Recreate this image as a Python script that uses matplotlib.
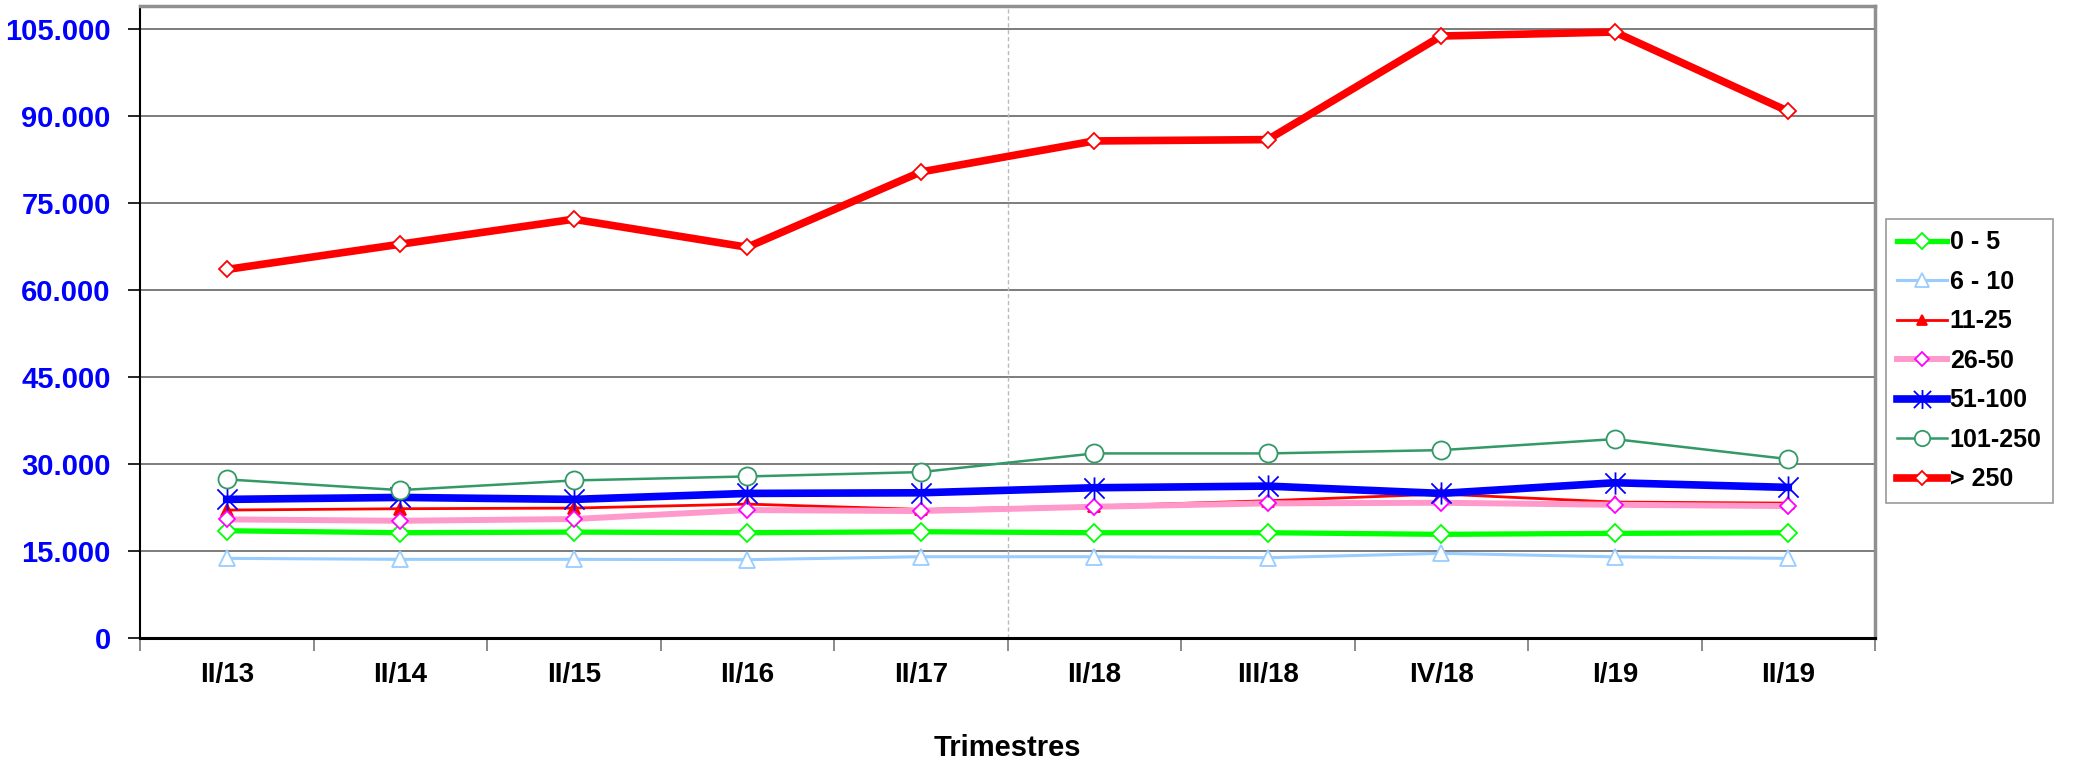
import numpy as np
import matplotlib.pyplot as plt
from matplotlib.path import Path
from matplotlib.ticker import FuncFormatter

plt.rcParams['font.family'] = ['Liberation Sans', 'DejaVu Sans']
plt.rcParams['font.weight'] = 'bold'

# quarters on the x axis
trimestres = ["II/13", "II/14", "II/15", "II/16", "II/17",
              "II/18", "III/18", "IV/18", "I/19", "II/19"]

# one list per size band
s_0_5 = [18500, 18160, 18270, 18160, 18330, 18160, 18160, 17880, 18050, 18160]
s_6_10 = [13740, 13570, 13570, 13510, 14020, 14020, 13850, 14600, 14000, 13740]
s_11_25 = [22070, 22300, 22410, 23100, 22180, 22760, 23680, 24830, 23450, 23270]
s_26_50 = [20460, 20220, 20520, 22070, 21900, 22640, 23220, 23330, 22980, 22760]
s_51_100 = [23910, 24250, 23910, 24940, 25050, 25920, 26200, 24940, 26780, 25980]
s_101_250 = [27360, 25510, 27180, 27870, 28620, 31840, 31840, 32410, 34310, 30860]
s_250 = [63570, 67930, 72240, 67410, 80390, 85740, 85970, 103840, 104530, 90860]

labels = ["0 - 5", "6 - 10", "11-25", "26-50", "51-100", "101-250", "> 250"]
y_ticks = [0, 15000, 30000, 45000, 60000, 75000, 90000, 105000]

# excel-like asterisk: an X plus a vertical bar
asterisk = Path([(-1, -1), (1, 1), (-1, 1), (1, -1), (0, -1.1), (0, 1.1)],
                [Path.MOVETO, Path.LINETO, Path.MOVETO, Path.LINETO,
                 Path.MOVETO, Path.LINETO])

# style per series: line colour, width, marker, marker size, edge, face
styles = [
    dict(color="#00FF00", lw=3.8, marker="D", ms=9, mec="#00FF00", mfc="white"),
    dict(color="#99CCFF", lw=2.2, marker="^", ms=12, mec="#99CCFF", mfc="white"),
    dict(color="#FF0000", lw=2.0, marker="^", ms=8.5, mec="#FF0000", mfc="#FF0000"),
    dict(color="#FF99CC", lw=4.3, marker="D", ms=8, mec="#FF00FF", mfc="white"),
    dict(color="#0000FF", lw=5.5, marker=asterisk, ms=16, mec="#0000FF", mfc="#0000FF"),
    dict(color="#339966", lw=1.8, marker="o", ms=13, mec="#339966", mfc="white"),
    dict(color="#FF0000", lw=5.5, marker="D", ms=8.5, mec="#FF0000", mfc="white"),
]
series = [s_0_5, s_6_10, s_11_25, s_26_50, s_51_100, s_101_250, s_250]

fig = plt.figure(figsize=(20.82, 7.68), dpi=100)
ax = fig.add_axes([140 / 2082, 1 - 638 / 768, (1875 - 140) / 2082, (638 - 6) / 768])

x = np.arange(len(trimestres))
for vals, lab, st in zip(series, labels, styles):
    ax.plot(x, vals, label=lab, color=st["color"], lw=st["lw"],
            marker=st["marker"], ms=st["ms"], mec=st["mec"], mfc=st["mfc"],
            mew=1.3, solid_joinstyle="miter", zorder=3)

ax.set_xlim(-0.5, len(trimestres) - 0.5)
ax.set_ylim(0, 105000 * 632 / (638 - 29.3))

# gridlines and the thin dotted line between II/17 and II/18
for yv in y_ticks[1:]:
    ax.axhline(yv, color="#666666", lw=1.2, zorder=1)
ax.axvline(4.5, color="#BBBBBB", lw=1, ls=(0, (3, 2)), zorder=1)

ax.set_yticks(y_ticks)
ax.yaxis.set_major_formatter(FuncFormatter(lambda v, p: f"{int(v):,}".replace(",", ".")))
ax.tick_params(axis="y", colors="black", labelcolor="#0000FF", labelsize=21,
               length=9, width=1.2, pad=12)

ax.set_xticks(x)
ax.set_xticklabels(trimestres)
ax.set_xticks(np.arange(-0.5, len(trimestres)), minor=True)
ax.tick_params(axis="x", which="major", length=0, labelsize=20, pad=17)
ax.tick_params(axis="x", which="minor", length=9, width=1.2, color="#777777")

for side in ["left", "bottom"]:
    ax.spines[side].set_color("black")
ax.spines["left"].set_linewidth(1.5)
ax.spines["bottom"].set_linewidth(2.2)
for side in ["top", "right"]:
    ax.spines[side].set_color("#909090")
    ax.spines[side].set_linewidth(2.5)

ax.set_xlabel("Trimestres", fontsize=21, fontweight="bold", va="center")
ax.xaxis.set_label_coords(0.5, -(748 - 638) / 632)

leg = ax.legend(loc="upper left", bbox_to_anchor=(1886 / 2082, 1 - 219 / 768),
                bbox_transform=fig.transFigure, borderaxespad=0, fontsize=18,
                frameon=True, fancybox=False, handlelength=2.0, handletextpad=0.1,
                labelspacing=0.62, borderpad=0.45, markerscale=0.85)
leg.get_frame().set_edgecolor("#808080")
leg.get_frame().set_linewidth(1.2)
for t in leg.get_texts():
    t.set_fontweight("bold")

fig.savefig("out.png", dpi=100)
